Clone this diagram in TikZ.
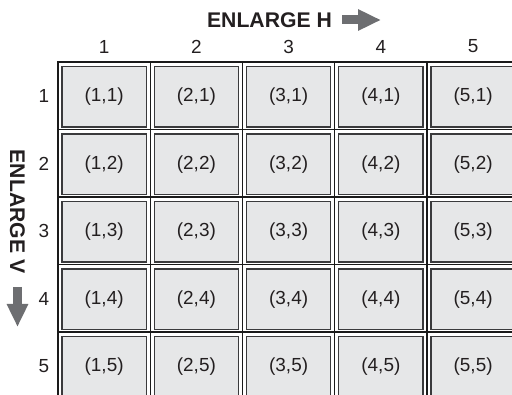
\documentclass[tikz,border=0pt]{standalone}
\usepackage{fontspec}
\setmainfont{Liberation Sans}
\usetikzlibrary{arrows.meta}
\definecolor{cell-fill}{HTML}{E6E7E8}
\definecolor{cell-edge}{HTML}{3A3A3C}
\definecolor{grid-line}{HTML}{1A1A1A}
\definecolor{arrow-gray}{HTML}{6D6E71}
\definecolor{ink}{HTML}{231F20}

\begin{document}
\begin{tikzpicture}[x=0.75pt, y=-0.75pt,
  every node/.style={font=\fontsize{14.2}{17}\selectfont, color=ink},
  cellbox/.style={draw=cell-edge, line width=0.9pt, fill=cell-fill, minimum width=63.2pt, minimum height=45.4pt, inner sep=0pt},
  titletext/.style={font=\bfseries\fontsize{15.9}{19}\selectfont},
  gridrule/.style={draw=grid-line, line width=1pt},
  bigarrow/.style={draw=arrow-gray, line width=6.75pt, -{Triangle[length=17.25pt, width=15pt]}}]
  \useasboundingbox (0,0) rectangle (512,395);
  \foreach \i in {1,...,5} {
    \node (h\i) at ({58+92.25*(\i-0.5)}, 46.5) {\i};
    \node (r\i) at (44, {62.5+67.5*(\i-0.5)}) {\i};
    \foreach \j in {1,...,5}
      \node[cellbox] (c\i\j) at ({58+92.25*(\i-0.5)}, {63+67.5*(\j-0.5)}) {(\i,\j)};
  }
  \foreach \k in {1,...,4} {
    \draw[gridrule] ({58+92.25*\k}, 62) -- ({58+92.25*\k}, 395);
    \draw[gridrule] (58, {62+67.5*\k}) -- (512, {62+67.5*\k});
  }
  \draw[gridrule, line width=2pt] (58,395) -- (58,62) -- (512,62);
  \node[titletext] (titleH) at (269.5,20) {ENLARGE H};
  \coordinate (hS) at (342,20);
  \coordinate (hE) at (381,20);
  \draw[bigarrow] (hS) -- (hE);
  \node[titletext, rotate=-90] (titleV) at (17.5,211.5) {ENLARGE V};
  \coordinate (vS) at (17.5,287);
  \coordinate (vE) at (17.5,327);
  \draw[bigarrow] (vS) -- (vE);
\end{tikzpicture}
\end{document}
